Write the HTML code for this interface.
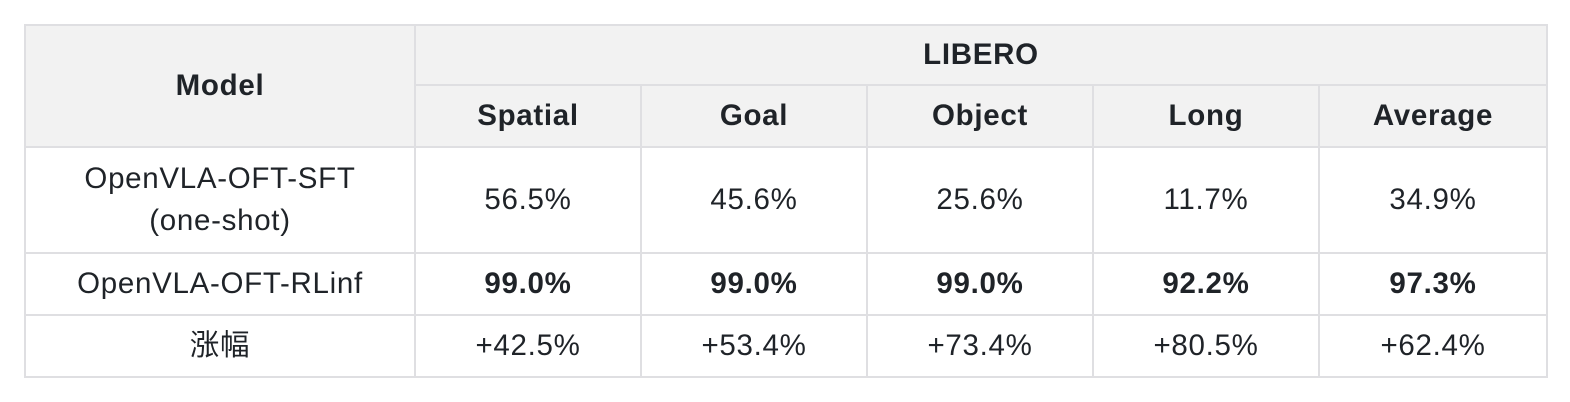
<!DOCTYPE html>
<html><head><meta charset="utf-8"><style>
html,body{margin:0;padding:0;background:#fff;width:1570px;height:402px;overflow:hidden}
table{position:absolute;left:24px;top:24px;border-collapse:collapse;font-family:"Liberation Sans","Noto Sans CJK SC",sans-serif;font-size:29.5px;letter-spacing:0.7px;color:#1f2328}
td,th{border:2px solid #dfdfe2;text-align:center;padding:0;line-height:42px}
th{background:#f2f2f2;font-weight:bold}
b{font-weight:bold}
</style></head><body>
<table>
<colgroup><col style="width:390px"><col style="width:226px"><col style="width:226px"><col style="width:226px"><col style="width:226px"><col style="width:228px"></colgroup>
<tr style="height:60px"><th rowspan="2">Model</th><th colspan="5">LIBERO</th></tr>
<tr style="height:62px"><th>Spatial</th><th>Goal</th><th>Object</th><th>Long</th><th>Average</th></tr>
<tr style="height:106px"><td>OpenVLA-OFT-SFT<br>(one-shot)</td><td>56.5%</td><td>45.6%</td><td>25.6%</td><td>11.7%</td><td>34.9%</td></tr>
<tr style="height:62px"><td>OpenVLA-OFT-RLinf</td><td><b>99.0%</b></td><td><b>99.0%</b></td><td><b>99.0%</b></td><td><b>92.2%</b></td><td><b>97.3%</b></td></tr>
<tr style="height:62px"><td>涨幅</td><td>+42.5%</td><td>+53.4%</td><td>+73.4%</td><td>+80.5%</td><td>+62.4%</td></tr>
</table>
</body></html>
